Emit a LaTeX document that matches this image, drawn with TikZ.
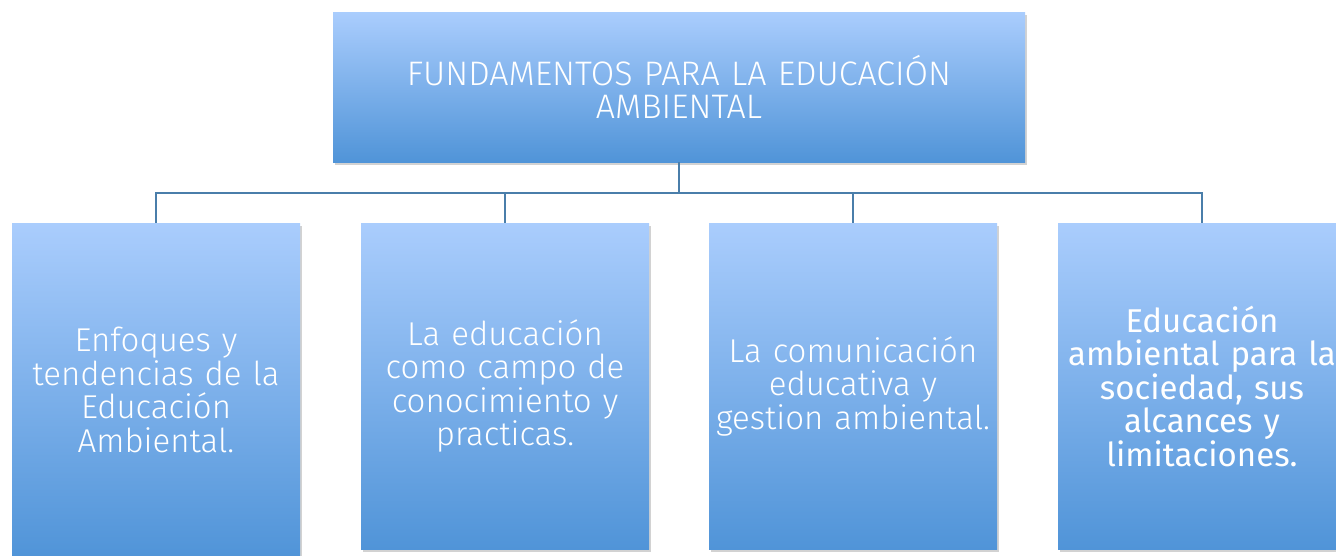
\documentclass[tikz,border=0pt]{standalone}
\usepackage{fontspec}
\setmainfont{Fira Sans}[UprightFont={* Light},BoldFont={*}]
\usetikzlibrary{shadows}
\definecolor{boxtop}{RGB}{170,205,253}
\definecolor{boxbot}{RGB}{80,148,216}
\definecolor{conn}{RGB}{74,126,170}
\tikzset{
  gbox/.style={draw=none, top color=boxtop, bottom color=boxbot,
    minimum width=288pt, inner sep=2pt, align=center, text=white, text width=284pt,
    font=\fontsize{33}{33.5}\selectfont,
    drop shadow={opacity=0.35, shadow xshift=2pt, shadow yshift=-3pt}},
  titlebox/.style={gbox, minimum width=692pt, minimum height=150pt, text width=660pt,
    font=\fontsize{34}{33}\selectfont},
  connline/.style={draw=conn, line width=2pt}
}
\begin{document}
\begin{tikzpicture}[x=1pt,y=-1pt]
\useasboundingbox (0,0) rectangle (1336,555);
\clip (0,0) rectangle (1336,555);
\fill[white] (0,0) rectangle (1336,555);
\coordinate (bus) at (679,192.5);
\node[titlebox] (top) at (679,87) {FUNDAMENTOS PARA LA EDUCACIÓN\\AMBIENTAL};
\node[gbox, minimum height=334pt] (b1) at (156,390) {Enfoques y\\tendencias de la\\Educación\\Ambiental.};
\node[gbox, minimum height=326pt] (b2) at (505,386) {La educación\\como campo de\\conocimiento y\\practicas.};
\node[gbox, minimum height=326pt] (b3) at (853,386) {La comunicación\\educativa y\\gestion ambiental.};
\node[gbox, minimum height=326pt, font=\fontsize{33}{33.5}\selectfont\bfseries] (b4) at (1202,386) {Educación\\ambiental para la\\sociedad, sus\\alcances y\\limitaciones.};
\draw[connline] (top.south) -- (bus);
\draw[connline] (b1.north) -- (b1.north |- bus) -- (b4.north |- bus) -- (b4.north);
\draw[connline] (b2.north) -- (b2.north |- bus);
\draw[connline] (b3.north) -- (b3.north |- bus);
\end{tikzpicture}
\end{document}
